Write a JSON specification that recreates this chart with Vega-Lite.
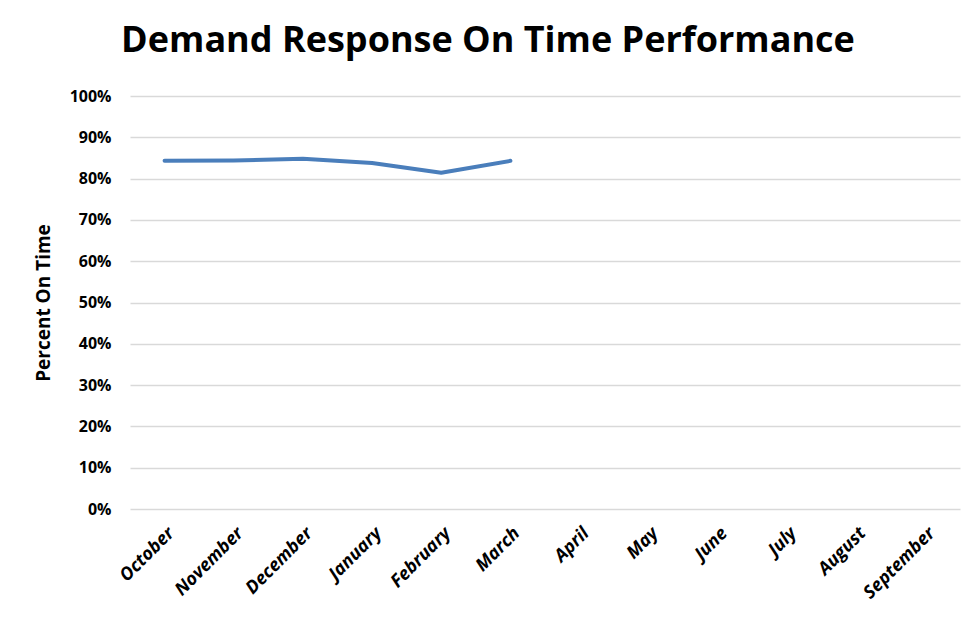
{
  "$schema": "https://vega.github.io/schema/vega-lite/v6.json",
  "autosize": "none",
  "width": 830,
  "height": 413,
  "padding": {"left": 130, "top": 96, "right": 15, "bottom": 110},
  "background": "white",
  "title": {
    "text": "Demand Response On Time Performance",
    "font": "Open Sans",
    "fontSize": 36,
    "fontWeight": "bold",
    "color": "#000000",
    "anchor": "middle",
    "dx": -57,
    "offset": 28
  },
  "data": {
    "values": [
      {"month": "October", "pct": 0.843},
      {"month": "November", "pct": 0.844},
      {"month": "December", "pct": 0.848},
      {"month": "January", "pct": 0.838},
      {"month": "February", "pct": 0.814},
      {"month": "March", "pct": 0.843},
      {"month": "April", "pct": null},
      {"month": "May", "pct": null},
      {"month": "June", "pct": null},
      {"month": "July", "pct": null},
      {"month": "August", "pct": null},
      {"month": "September", "pct": null}
    ]
  },
  "mark": {"type": "line", "color": "#4a7ebb", "strokeWidth": 4, "strokeCap": "round", "strokeJoin": "round"},
  "encoding": {
    "x": {
      "field": "month",
      "type": "nominal",
      "sort": null,
      "scale": {"paddingInner": 0, "paddingOuter": 0.5},
      "axis": {
        "title": null,
        "labelAngle": -45,
        "labelFont": "Open Sans",
        "labelFontSize": 18,
        "labelFontWeight": "bold",
        "labelFontStyle": "italic",
        "labelColor": "#000000",
        "labelPadding": 15,
        "ticks": false,
        "domain": false,
        "grid": false
      }
    },
    "y": {
      "field": "pct",
      "type": "quantitative",
      "scale": {"domain": [0, 1]},
      "axis": {
        "title": "Percent On Time",
        "titleFont": "Open Sans",
        "titleFontSize": 19,
        "titleFontWeight": "bold",
        "titleColor": "#000000",
        "titlePadding": 16,
        "format": ".0%",
        "values": [0, 0.1, 0.2, 0.3, 0.4, 0.5, 0.6, 0.7, 0.8, 0.9, 1],
        "labelFont": "Open Sans",
        "labelFontSize": 16,
        "labelFontWeight": "bold",
        "labelColor": "#000000",
        "labelPadding": 19,
        "ticks": false,
        "domain": false,
        "grid": true,
        "gridColor": "#d9d9d9",
        "gridWidth": 1.5
      }
    }
  },
  "config": {"view": {"stroke": null}}
}
